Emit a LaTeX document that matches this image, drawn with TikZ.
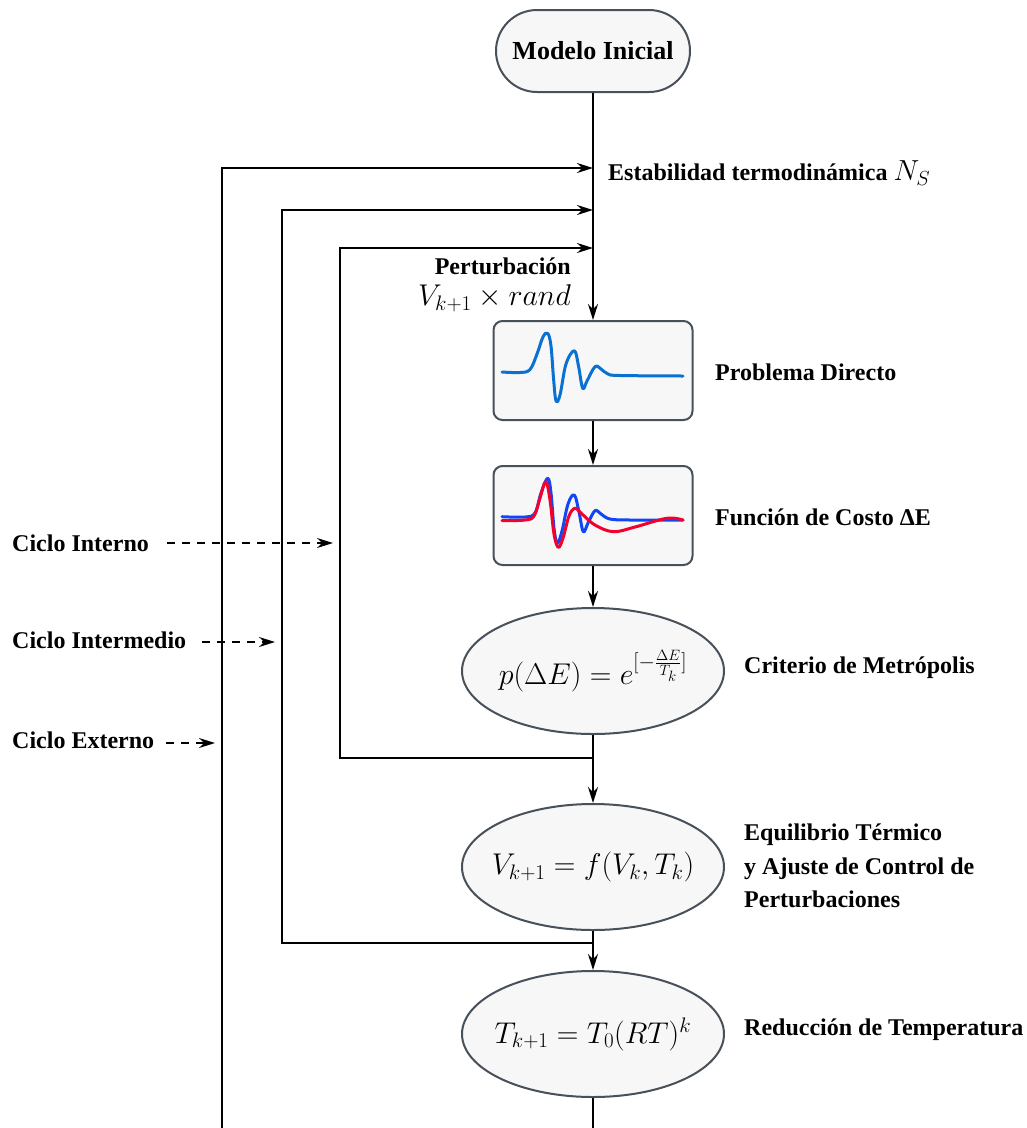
\RequirePackage{fix-cm}
\documentclass[tikz,border=0pt]{standalone}
\usepackage{fontspec}
\setmainfont{Liberation Serif}
\usetikzlibrary{arrows.meta,shapes.geometric,calc}
\definecolor{nodefill}{HTML}{F7F7F7}
\definecolor{nodeline}{HTML}{48505A}
\definecolor{waveA}{HTML}{0A70D2}
\definecolor{waveB}{HTML}{1046F5}
\definecolor{waveR}{HTML}{F5002D}
\begin{document}
\begin{tikzpicture}[x=1pt,y=-1pt,
  lbl/.style={font=\fontsize{24}{29}\selectfont\bfseries, inner sep=0pt},
  mth/.style={font=\fontsize{30}{36}\selectfont},
  flow/.style={line width=1.8pt, draw=black},
  arr/.style={flow, -{Stealth[length=16pt,width=10pt]}},
  darr/.style={line width=1.6pt, dash pattern=on 8pt off 7pt, -{Stealth[length=16pt,width=10pt]}},
  nbox/.style={draw=nodeline, fill=nodefill, line width=2pt},
  ell/.style={nbox, ellipse, minimum width=262pt, minimum height=126pt, inner xsep=-14pt, inner ysep=0pt, mth},
  wave/.style={line width=3pt, line join=round, line cap=round},
  ]
\fill[white] (0,0) rectangle (1027,1128);
\useasboundingbox (0,0) rectangle (1027,1128);

% nodes
\node[nbox, rounded corners=41pt, minimum width=194pt, minimum height=82pt, inner sep=0pt,
      font=\fontsize{26}{31}\selectfont\bfseries] (mi) at (593,51) {Modelo Inicial};
\node[nbox, rounded corners=9pt, minimum width=199pt, minimum height=99pt] (b1) at (593,370.5) {};
\node[nbox, rounded corners=9pt, minimum width=199pt, minimum height=99pt] (b2) at (593,515.5) {};
\node[ell] (e1) at (593,671) {$p(\Delta E)=e^{[-\frac{\Delta E}{T_k}]}$};
\node[ell] (e2) at (593,867) {$V_{k+1}=f(V_k,T_k)$};
\node[ell] (e3) at (593,1034) {$T_{k+1}=T_0(RT)^k$};

% waveforms
\draw[wave, waveA] plot[smooth, tension=0.6] coordinates {
  (502,372) (520,372.5) (530,369.5) (537,354) (543,337) (547.7,333.3) (551,346) (553.5,378)
  (556,400.7) (560,395) (566,364) (574.3,350.7) (578.5,366) (582.7,388.3) (587,381) (595,366.7)
  (601,369) (608,374) (620,375.5) (683,376)};
\draw[wave, waveB] plot[smooth, tension=0.6] coordinates {
  (502,516.7) (525,517) (535,513) (541,493) (547.7,478.3) (551,493) (554,528) (557.3,543.3)
  (562,531) (568,504) (574.3,495) (579,512) (583.3,531.7) (588,523) (595,510.7) (601,514)
  (610,519) (630,520) (683,520)};
\draw[wave, waveR] plot[smooth, tension=0.6] coordinates {
  (502,520.7) (525,520) (534,516) (540,498) (545.7,481.7) (550,500) (554,534) (558.3,547.3)
  (563,538) (569,516) (575,508.3) (582,514) (595,525) (613.3,531.7) (635,527) (666.7,518.3) (683,520)};

% coordinates
\coordinate (in3) at (593,168);
\coordinate (in2) at (593,210);
\coordinate (in1) at (593,248);
\coordinate (j1) at (593,758);
\coordinate (j2) at (593,943);
\coordinate (c1) at (340,758);
\coordinate (c2) at (282,943);
\coordinate (c3) at (222,1128);
\coordinate (bot) at (593,1128);

% main flow
\draw[arr] (mi.south) -- (b1.north);
\draw[arr] (b1.south) -- (b2.north);
\draw[arr] (b2.south) -- (e1.north);
\draw[arr] (e1.south) -- (e2.north);
\draw[arr] (e2.south) -- (e3.north);
\draw[flow] (e3.south) -- (bot);

% loops
\draw[arr] (j1) -- (c1) -- (c1 |- in1) -- (in1);
\draw[arr] (j2) -- (c2) -- (c2 |- in2) -- (in2);
\draw[arr] (c3) -- (c3 |- in3) -- (in3);

% labels
\node[lbl, anchor=west] (lst) at (608,173) {Estabilidad termodinámica {\fontsize{29}{34}\selectfont\mdseries$N_S$}};
\node[lbl, anchor=east] (lpe) at (571,266) {Perturbación};
\node[anchor=east, inner sep=0pt, mth] (lpv) at (571,298) {$V_{k+1}\times rand$};
\node[lbl, anchor=west] (lpd) at (715,372) {Problema Directo};
\node[lbl, anchor=west] (lfc) at (715,517) {Función de Costo ΔE};
\node[lbl, anchor=west] (lcm) at (744,668) {Criterio de Metrópolis};
\node[lbl, anchor=west, align=left, font=\fontsize{24}{33.5}\selectfont\bfseries] (leq) at (744,866)
  {Equilibrio Térmico\\y Ajuste de Control de\\Perturbaciones};
\node[lbl, anchor=west] (lrt) at (744,1030) {Reducción de Temperatura};

% cycle labels
\node[lbl, anchor=west] (ci) at (12,543) {Ciclo Interno};
\node[lbl, anchor=west] (cm) at (12,640) {Ciclo Intermedio};
\node[lbl, anchor=west] (ce) at (12,740) {Ciclo Externo};
\coordinate (ti) at (333,543);
\coordinate (tm) at (275,642);
\coordinate (te) at (215,743);
\draw[darr] ([xshift=18pt]ci.east) -- (ti);
\draw[darr] ([xshift=16pt]cm.east |- tm) -- (tm);
\draw[darr] ([xshift=12pt]ce.east |- te) -- (te);
\end{tikzpicture}
\end{document}
